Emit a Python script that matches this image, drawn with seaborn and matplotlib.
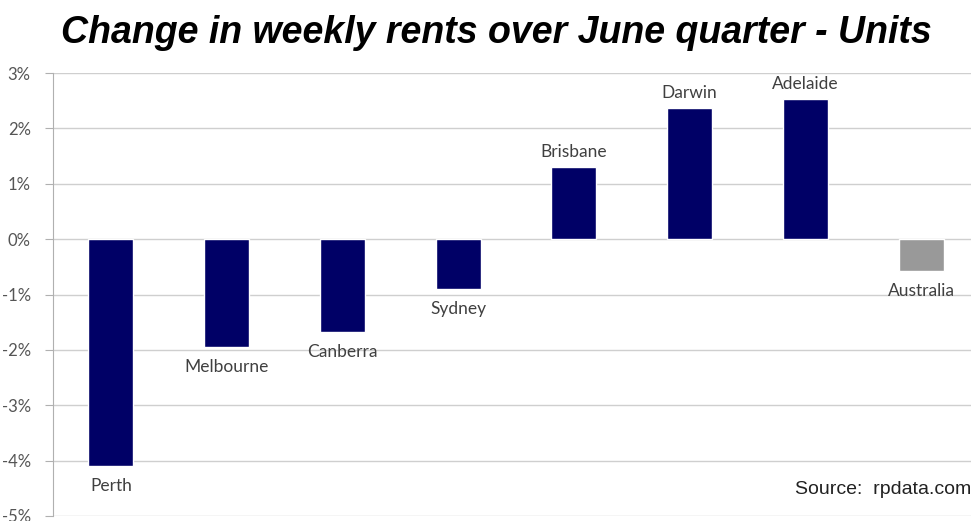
import matplotlib.pyplot as plt
import seaborn as sns
import pandas as pd

cities = ['Perth', 'Melbourne', 'Canberra', 'Sydney', 'Brisbane', 'Darwin', 'Adelaide', 'Australia']
change = [-4.1, -1.95, -1.68, -0.9, 1.3, 2.37, 2.53, -0.58]
colours = ['#000066'] * 7 + ['#999999']
y_ticks = [3, 2, 1, 0, -1, -2, -3, -4, -5]

df = pd.DataFrame({'city': cities, 'change': change})

sns.set_style('white')
plt.rcParams['font.family'] = ['Lato', 'DejaVu Sans']

fig = plt.figure(figsize=(9.71, 5.21), dpi=100)
ax = fig.add_axes([53 / 971, 5 / 521, 926 / 971, 443 / 521])

sns.barplot(x='city', y='change', hue='city', data=df, palette=colours,
            legend=False, width=0.39, ax=ax, saturation=1)

ax.set_ylim(-5, 3)
ax.set_xlim(-0.5, len(cities) - 0.5)
ax.set_yticks(y_ticks)
ax.set_yticklabels(['%d%%' % t for t in y_ticks], fontsize=12, color='#555555')
ax.set_xticks([])
ax.set_xlabel('')
ax.set_ylabel('')

ax.grid(axis='y', color='#cfcfcf', linewidth=1)
ax.set_axisbelow(True)
for side in ['top', 'right', 'bottom']:
    ax.spines[side].set_visible(False)
ax.spines['left'].set_color('#b0b0b0')
ax.tick_params(axis='y', length=6, color='#b0b0b0', pad=10, left=True)

for i, (name, val) in enumerate(zip(cities, change)):
    if val >= 0:
        ax.annotate(name, (i, val), xytext=(0, 5), textcoords='offset points',
                    ha='center', va='bottom', fontsize=12.5, color='#404040')
    else:
        ax.annotate(name, (i, val), xytext=(0, -8.5), textcoords='offset points',
                    ha='center', va='top', fontsize=12.5, color='#404040')

fig.text(496 / 971, 1 - 33 / 521, 'Change in weekly rents over June quarter - Units',
         ha='center', va='center', fontsize=27, fontweight='bold', fontstyle='italic',
         family='Liberation Sans', color='black')
fig.text(795 / 971, 1 - 489 / 521, 'Source:  rpdata.com', ha='left', va='center',
         fontsize=14, family='Liberation Sans', color='#222222')

plt.savefig('out.png', dpi=100)
